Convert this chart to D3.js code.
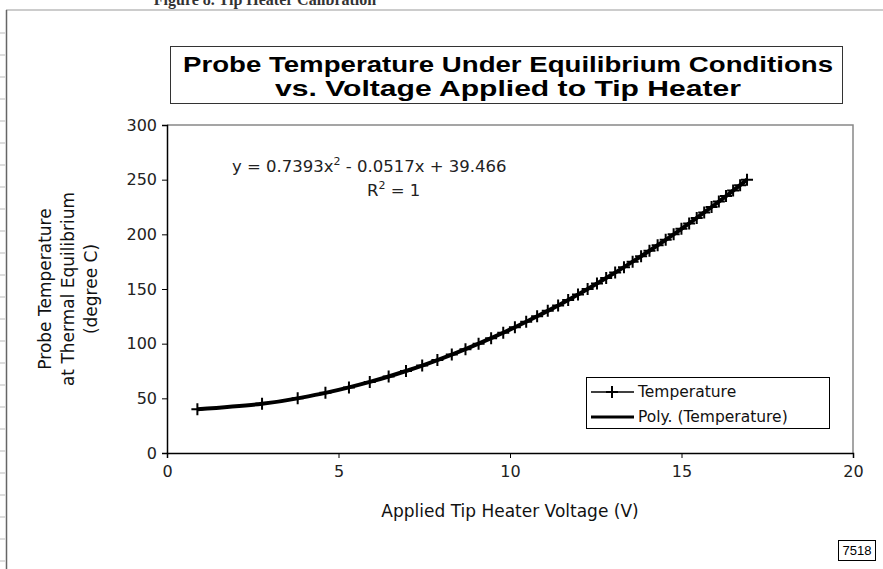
<!DOCTYPE html>
<html>
<head>
<meta charset="utf-8">
<script src="https://cdn.jsdelivr.net/npm/d3@7"></script>
<style>
  html, body { margin: 0; padding: 0; background: #fff; }
  svg { display: block; }
</style>
</head>
<body>
<svg id="chart" width="883" height="569"></svg>
<script>
// Applied tip heater voltage (V)
const voltage = [0.886, 2.771, 3.810, 4.619, 5.305, 5.912, 6.462, 6.968, 7.440, 7.883,
  8.303, 8.702, 9.084, 9.450, 9.803, 10.143, 10.472, 10.791, 11.101, 11.403,
  11.696, 11.983, 12.263, 12.536, 12.804, 13.066, 13.323, 13.575, 13.822, 14.066,
  14.304, 14.539, 14.771, 14.998, 15.223, 15.444, 15.662, 15.877, 16.089, 16.298,
  16.505, 16.709, 16.910];
// Probe temperature (degree C)
const temperature = [40, 45, 50, 55, 60, 65, 70, 75, 80, 85,
  90, 95, 100, 105, 110, 115, 120, 125, 130, 135,
  140, 145, 150, 155, 160, 165, 170, 175, 180, 185,
  190, 195, 200, 205, 210, 215, 220, 225, 230, 235,
  240, 245, 250];

const xTicks = [0, 5, 10, 15, 20];
const yTicks = [0, 50, 100, 150, 200, 250, 300];

const titleLines = ["Probe Temperature Under Equilibrium Conditions", "vs. Voltage Applied to Tip Heater"];
const yLabelLines = ["Probe Temperature", "at Thermal Equilibrium", "(degree C)"];
const legendItems = ["Temperature", "Poly. (Temperature)"];

const svg = d3.select('#chart');
const font = "'DejaVu Sans', Verdana, sans-serif";

const margin = {top: 125, right: 30, bottom: 116, left: 167};
const width = 883 - margin.left - margin.right;
const height = 569 - margin.top - margin.bottom;

const x = d3.scaleLinear([0, 20], [margin.left, margin.left + width]);
const y = d3.scaleLinear([0, 300], [margin.top + height, margin.top]);

const data = voltage.map((v, i) => ({v, t: temperature[i]}));

// page frame bits (scanned document edge)
svg.append('line')
    .attr('x1', 6).attr('x2', 883).attr('y1', 10).attr('y2', 10)
    .attr('stroke', '#999').attr('stroke-width', 1);
svg.append('line')
    .attr('x1', 6.5).attr('x2', 6.5).attr('y1', 10).attr('y2', 569)
    .attr('stroke', '#666').attr('stroke-width', 1.5);
svg.append('g')
    .selectAll('line')
    .data(d3.range(33, 569, 22))
    .join('line')
    .attr('x1', 0).attr('x2', 5)
    .attr('y1', d => d).attr('y2', d => d)
    .attr('stroke', '#bbb');

// caption, cut off at the top edge like the scan
svg.append('text')
    .attr('x', 265).attr('y', 5)
    .attr('text-anchor', 'middle')
    .style('font', "bold 16px 'Liberation Serif', serif")
    .attr('fill', '#333')
    .text('Figure 8. Tip Heater Calibration');

// title box
svg.append('rect')
    .attr('x', 170.5).attr('y', 46.5).attr('width', 672).attr('height', 57)
    .attr('fill', 'none').attr('stroke', '#333').attr('stroke-width', 1);
svg.append('g')
    .selectAll('text')
    .data(titleLines)
    .join('text')
    .attr('x', 508)
    .attr('y', (d, i) => 72 + i * 24)
    .attr('text-anchor', 'middle')
    .style('font', "bold 22px 'Liberation Sans', Arial, sans-serif")
    .attr('textLength', (d, i) => i === 0 ? 650 : 466)
    .attr('lengthAdjust', 'spacingAndGlyphs')
    .text(d => d);

// plot frame (top/right grey)
svg.append('path')
    .attr('d', `M${x(0)},${y(300)}H${x(20)}V${y(0)}`)
    .attr('fill', 'none').attr('stroke', '#888').attr('stroke-width', 1.5);

// axes
const xAxis = svg.append('g')
    .attr('transform', `translate(0,${y(0)})`)
    .call(d3.axisBottom(x).tickValues(xTicks).tickSize(5).tickPadding(8));
const yAxis = svg.append('g')
    .attr('transform', `translate(${x(0)},0)`)
    .call(d3.axisLeft(y).tickValues(yTicks).tickSize(5).tickPadding(5));
[xAxis, yAxis].forEach(g => {
    g.select('.domain').attr('stroke', '#000').attr('stroke-width', 1.5);
    g.selectAll('.tick line').attr('stroke', '#000');
    g.selectAll('.tick text')
        .style('font', `16px ${font}`)
        .attr('fill', '#222');
});

// axis titles
svg.append('text')
    .attr('x', x(10)).attr('y', 517)
    .attr('text-anchor', 'middle')
    .style('font', `17px ${font}`)
    .attr('fill', '#111')
    .text('Applied Tip Heater Voltage (V)');

svg.append('g')
    .attr('transform', `translate(0,${y(150)}) rotate(-90)`)
    .selectAll('text')
    .data(yLabelLines)
    .join('text')
    .attr('x', 0)
    .attr('y', (d, i) => 51 + i * 23)
    .attr('text-anchor', 'middle')
    .style('font', `17px ${font}`)
    .attr('fill', '#111')
    .text(d => d);

// trendline equation
const eq = svg.append('text')
    .attr('x', 232).attr('y', 172)
    .style('font', `16.5px ${font}`)
    .attr('fill', '#222');
eq.append('tspan').text('y = 0.7393x');
eq.append('tspan').attr('dy', -7).style('font-size', '11px').text('2');
eq.append('tspan').attr('dy', 7).text(' - 0.0517x + 39.466');

const r2 = svg.append('text')
    .attr('x', 367).attr('y', 196)
    .style('font', `16.5px ${font}`)
    .attr('fill', '#222');
r2.append('tspan').text('R');
r2.append('tspan').attr('dy', -7).style('font-size', '11px').text('2');
r2.append('tspan').attr('dy', 7).text(' = 1');

// poly trendline (thick)
const curve = d3.line()
    .x(d => x(d.v))
    .y(d => y(d.t))
    .curve(d3.curveNatural);
svg.append('path')
    .datum(data)
    .attr('d', curve)
    .attr('fill', 'none')
    .attr('stroke', '#000')
    .attr('stroke-width', 4);

// data series
svg.append('path')
    .datum(data)
    .attr('d', d3.line().x(d => x(d.v)).y(d => y(d.t)))
    .attr('fill', 'none')
    .attr('stroke', '#000')
    .attr('stroke-width', 1.5);

svg.append('g')
    .selectAll('path')
    .data(data)
    .join('path')
    .attr('transform', d => `translate(${x(d.v)},${y(d.t)})`)
    .attr('d', 'M-6,0H6M0,-6V6')
    .attr('stroke', '#000')
    .attr('stroke-width', 2);

// legend
const legend = svg.append('g').attr('transform', 'translate(586,377)');
legend.append('rect')
    .attr('x', 0.5).attr('y', 0.5).attr('width', 243).attr('height', 51)
    .attr('fill', '#fff').attr('stroke', '#000');
legendItems.forEach((name, i) => {
    const ly = 15 + i * 25;
    legend.append('line')
        .attr('x1', 5).attr('x2', 48).attr('y1', ly).attr('y2', ly)
        .attr('stroke', '#000').attr('stroke-width', i === 0 ? 1.5 : 3);
    if (i === 0) {
        legend.append('path')
            .attr('transform', `translate(26,${ly})`)
            .attr('d', 'M-6,0H6M0,-6V6')
            .attr('stroke', '#000').attr('stroke-width', 2);
    }
    legend.append('text')
        .attr('x', 52).attr('y', ly + 5)
        .style('font', `15.5px ${font}`)
        .attr('fill', '#111')
        .text(name);
});

// stamp at bottom right
svg.append('rect')
    .attr('x', 838.5).attr('y', 540.5).attr('width', 37).attr('height', 20)
    .attr('fill', 'none').attr('stroke', '#000');
svg.append('text')
    .attr('x', 857).attr('y', 555)
    .attr('text-anchor', 'middle')
    .style('font', "13px 'Liberation Sans', Arial, sans-serif")
    .attr('textLength', 29)
    .attr('lengthAdjust', 'spacingAndGlyphs')
    .text('7518');
</script>
</body>
</html>
